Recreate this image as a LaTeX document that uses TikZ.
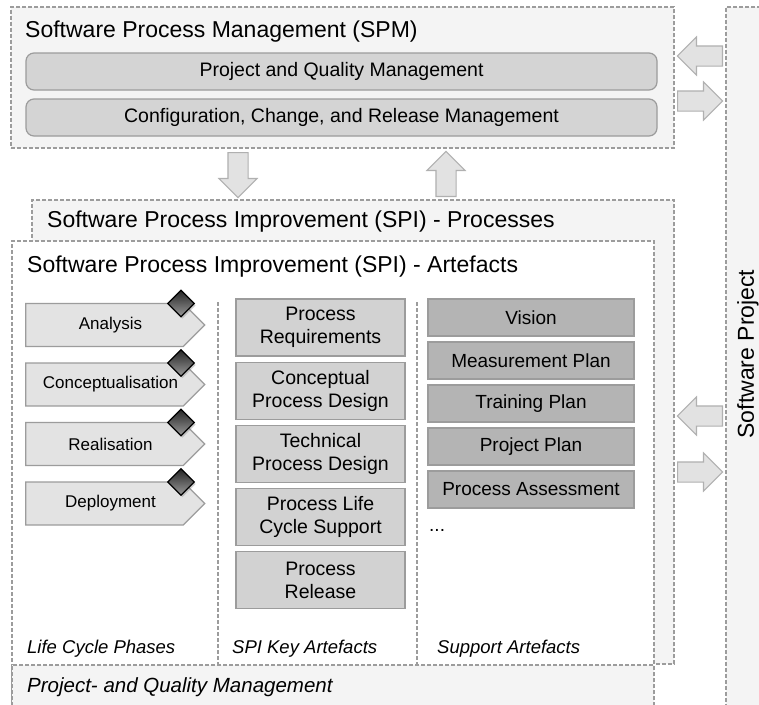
\documentclass[tikz,border=0pt]{standalone}
\usepackage{fontspec}
\setmainfont{Liberation Sans}
\usepackage{tikz}
\usetikzlibrary{shapes.geometric,shapes.arrows,shapes.symbols,shadows}
\definecolor{panel}{HTML}{F4F4F4}
\definecolor{rim}{HTML}{9C9C9C}
\definecolor{mgmtgray}{HTML}{D4D4D4}
\definecolor{keygray}{HTML}{D2D2D2}
\definecolor{supgray}{HTML}{B4B4B4}
\definecolor{phasegray}{HTML}{E3E3E3}
\definecolor{flowgray}{HTML}{E2E2E2}
\tikzstyle{area} = [draw=rim, fill=panel, line width=1.1pt, dash pattern=on 4pt off 2pt]
\tikzstyle{divider} = [draw=rim, line width=1.1pt, dash pattern=on 4pt off 2pt]
\tikzstyle{title} = [anchor=base west, inner sep=0, font={\fontsize{23}{27}\selectfont}]
\tikzstyle{column} = [anchor=base west, inner sep=0, font={\fontsize{18.5}{22}\selectfont\itshape}]
\tikzstyle{mgmt} = [draw=rim, fill=mgmtgray, line width=1.2pt, rounded corners=8pt, minimum width=631pt, minimum height=37pt, font={\fontsize{19.5}{23}\selectfont}]
\tikzstyle{phase} = [draw=rim, fill=phasegray, line width=1.2pt, signal, signal to=east, minimum width=179pt, minimum height=43pt, inner sep=0, font={\fontsize{17}{20}\selectfont}, execute at begin node={\hspace*{12pt}}]
\tikzstyle{gate} = [diamond, draw=black, line width=1.3pt, top color=black!85, bottom color=black!40, minimum width=27pt, minimum height=27pt, inner sep=0, drop shadow={shadow xshift=1.5pt, shadow yshift=-2pt, opacity=0.35}]
\tikzstyle{key} = [draw=rim, fill=keygray, line width=1.2pt, minimum width=169pt, minimum height=57pt, align=center, font={\fontsize{19.5}{23}\selectfont}]
\tikzstyle{support} = [draw=rim, fill=supgray, line width=1.2pt, minimum width=206pt, minimum height=37pt, font={\fontsize{19}{23}\selectfont}]
\tikzstyle{flow} = [single arrow, draw=rim!80, fill=flowgray, line width=1.1pt, minimum height=45pt, inner sep=9.5pt, single arrow head extend=9pt, anchor=tail]

\begin{document}
\begin{tikzpicture}[x=1pt,y=-1pt]
    \useasboundingbox (0,0) rectangle (759,704);
    \clip (0,0) rectangle (759,704);
    % areas
    \node[area,minimum width=663pt,minimum height=141pt](spm) at (342.5,77.5){};
    \node[area,minimum width=46pt,minimum height=705pt](proj) at (749,359.5){};
    \node[area,minimum width=642pt,minimum height=464pt](spiproc) at (353,432){};
    \node[area,fill=white,minimum width=642pt,minimum height=471pt](spiart) at (333,476.5){};
    \node[area,minimum width=642pt,minimum height=47pt](qm) at (333,688.5){};
    \draw[divider] (218,302) -- (218,664);
    \draw[divider] (417,302) -- (417,664);
    % titles
    \node[title](spmtitle) at (25,37){Software Process Management (SPM)};
    \node[title](proctitle) at (47,227){Software Process Improvement (SPI) - Processes};
    \node[title](arttitle) at (27,272){Software Process Improvement (SPI) - Artefacts};
    \node[title,rotate=90,anchor=center](projtitle) at (748,354){Software Project};
    % management
    \node[mgmt](pqm) at (341.5,71.5){Project and Quality Management};
    \node[mgmt](ccr) at (341.5,117.5){Configuration, Change, and Release Management};
    % flows
    \node[flow,shape border rotate=270](down) at (238,152){};
    \node[flow,shape border rotate=90](up) at (446,197){};
    \node[flow,shape border rotate=180](tospm) at (723,56){};
    \node[flow](fromspm) at (677,101){};
    \node[flow,shape border rotate=180](tospi) at (723,416){};
    \node[flow](fromspi) at (677,472){};
    % life cycle phases
    \node[phase](ana) at (104.5,325){Analysis};
    \node[phase](con) at (104.5,384.5){Conceptualisation};
    \node[phase](rea) at (104.5,444){Realisation};
    \node[phase](dep) at (104.5,503.5){Deployment};
    \node[gate](g1) at (181,303.5){};
    \node[gate](g2) at (181,363){};
    \node[gate](g3) at (181,422.5){};
    \node[gate](g4) at (181,482){};
    % key artefacts
    \node[key](req) at (320.5,327.5){Process\\Requirements};
    \node[key](cpd) at (320.5,390.7){Conceptual\\Process Design};
    \node[key](tpd) at (320.5,453.9){Technical\\Process Design};
    \node[key](lcs) at (320.5,517.1){Process Life\\Cycle Support};
    \node[key](rel) at (320.5,580.3){Process\\Release};
    % support artefacts
    \node[support](vis) at (531,317.5){Vision};
    \node[support](mp) at (531,360.5){Measurement Plan};
    \node[support](tp) at (531,403.5){Training Plan};
    \node[support](pp) at (531,446.5){Project Plan};
    \node[support](pa) at (531,489.5){Process Assessment};
    \node[anchor=base west,inner sep=0,font={\fontsize{19}{23}\selectfont}](more) at (429,531){...};
    % column labels
    \node[column](lcp) at (27,653){Life Cycle Phases};
    \node[column](ska) at (232,653){SPI Key Artefacts};
    \node[column](sa) at (437,653){Support Artefacts};
    \node[column,font={\fontsize{20.5}{24}\selectfont\itshape}](qmtitle) at (27,692){Project- and Quality Management};
\end{tikzpicture}
\end{document}
